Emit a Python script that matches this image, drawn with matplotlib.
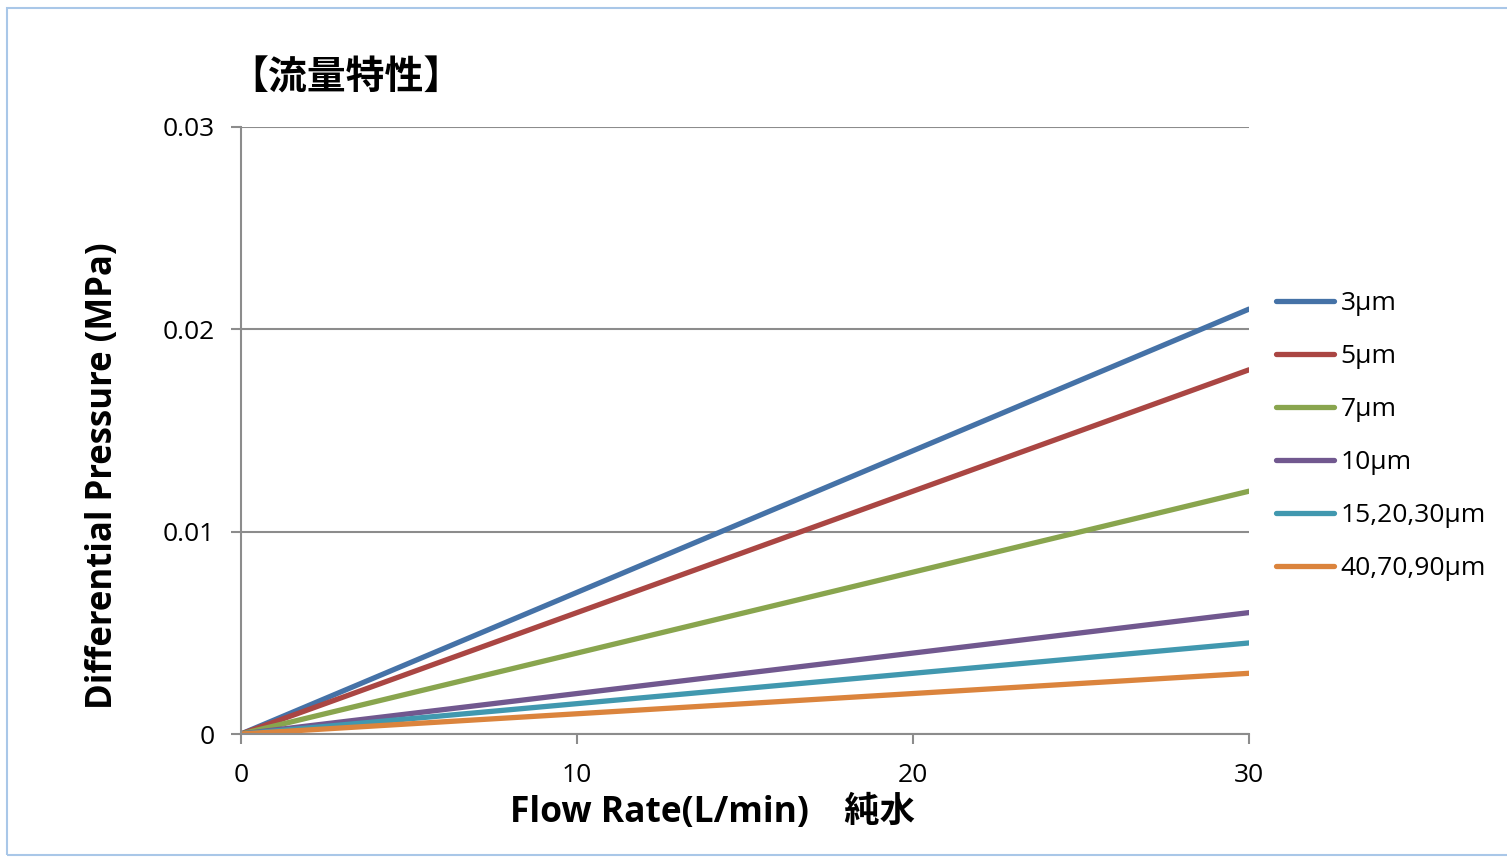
import matplotlib
matplotlib.use("Agg")
import matplotlib.pyplot as plt
from matplotlib.patches import Rectangle

plt.rcParams['font.family'] = ['Open Sans', 'Noto Sans CJK JP', 'DejaVu Sans']

flow = [0, 30]
labels = ['3µm', '5µm', '7µm', '10µm', '15,20,30µm', '40,70,90µm']
pressure = [
    [0, 0.021],
    [0, 0.018],
    [0, 0.012],
    [0, 0.006],
    [0, 0.0045],
    [0, 0.003],
]
colors = ['#4572A7', '#AA4643', '#89A54E', '#71588F', '#4198AF', '#DB843D']
xticks = [0, 10, 20, 30]
yticks = [0, 0.01, 0.02, 0.03]
ytick_labels = ['0', '0.01', '0.02', '0.03']

fig = plt.figure(figsize=(15.07, 8.59), dpi=100)
ax = fig.add_axes([241 / 1507, 1 - 734 / 859, 1008 / 1507, 607 / 859])

# light blue frame round the chart area
fig.patches.append(Rectangle((7 / 1507, 4 / 859), 1.0, 847 / 859,
                             transform=fig.transFigure, fill=False,
                             edgecolor='#a9c7e8', lw=1.5))

for lab, ys, c in zip(labels, pressure, colors):
    ax.plot(flow, ys, color=c, lw=3.8, solid_capstyle='round', label=lab)

ax.set_xlim(0, 30)
ax.set_ylim(0, 0.03)
ax.set_xticks(xticks)
ax.set_xticklabels([str(t) for t in xticks])
ax.set_yticks(yticks)
ax.set_yticklabels(ytick_labels)

for s in ['top', 'right']:
    ax.spines[s].set_visible(False)
for s in ['left', 'bottom']:
    ax.spines[s].set_color('#8c8c8c')
    ax.spines[s].set_linewidth(1.5)
ax.yaxis.grid(True, color='#8c8c8c', lw=1.5)
ax.set_axisbelow(True)
ax.tick_params(axis='both', direction='out', length=7, width=1.5,
               color='#8c8c8c', labelsize=19)
ax.tick_params(axis='y', pad=12)
ax.tick_params(axis='x', pad=14)

fig.text(229 / 1507, 1 - 78 / 859, '【流量特性】', fontsize=28, fontweight='bold',
         family=['Noto Sans CJK JP'], va='center', ha='left')

fig.text(712 / 1507, 1 - 813 / 859, 'Flow Rate(L/min)\u3000純水', fontsize=25.5,
         fontweight='bold', ha='center', va='center')
fig.text(103 / 1507, 1 - 476 / 859, 'Differential Pressure (MPa)', fontsize=25,
         fontweight='bold', ha='center', va='center', rotation=90)

ax.legend(loc='upper left', bbox_to_anchor=(1276 / 1507, 1 - 291 / 859),
          bbox_transform=fig.transFigure, frameon=False, fontsize=19,
          handlelength=2.2, handletextpad=0.25, labelspacing=1.06,
          borderaxespad=0, borderpad=0)

fig.savefig('out.png', dpi=100)
